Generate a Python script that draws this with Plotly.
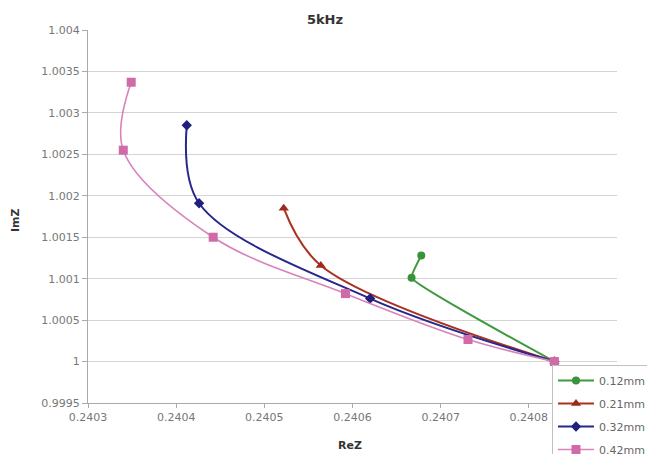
import plotly.graph_objects as go

# ---- data ----
series_names = ["0.12mm", "0.21mm", "0.32mm", "0.42mm"]

re_012 = [0.240678, 0.240667, 0.240829]
im_012 = [1.00128, 1.00101, 1.00000]

re_021 = [0.240522, 0.240564, 0.240829]
im_021 = [1.00185, 1.00116, 1.00000]

re_032 = [0.240412, 0.240426, 0.240620, 0.240829]
im_032 = [1.00285, 1.00191, 1.00076, 1.00000]

re_042 = [0.240349, 0.240340, 0.240442, 0.240592, 0.240731, 0.240829]
im_042 = [1.00337, 1.00255, 1.00150, 1.00082, 1.000266, 1.00000]

x_tickvals = [0.2403, 0.2404, 0.2405, 0.2406, 0.2407, 0.2408, 0.2409]
x_ticktext = ["0.2403", "0.2404", "0.2405", "0.2406", "0.2407", "0.2408", ""]
y_tickvals = [0.9995, 1.0, 1.0005, 1.001, 1.0015, 1.002, 1.0025, 1.003, 1.0035, 1.004]
y_ticktext = ["0.9995", "1", "1.0005", "1.001", "1.0015", "1.002", "1.0025", "1.003", "1.0035", "1.004"]

styles = [
    dict(color="#3f9a3f", mcolor="#3a923a", symbol="circle", msize=8, width=2, smooth=0.3),
    dict(color="#a8321f", mcolor="#9e2a1c", symbol="triangle-up", msize=9, width=2, smooth=1.0),
    dict(color="#27278c", mcolor="#1f1f7f", symbol="diamond", msize=8, width=2, smooth=1.0),
    dict(color="#d883ba", mcolor="#d06aa8", symbol="square", msize=9, width=1.6, smooth=1.0),
]
xs = [re_012, re_021, re_032, re_042]
ys = [im_012, im_021, im_032, im_042]

fig = go.Figure()
for i, (name, x, y, st) in enumerate(zip(series_names, xs, ys, styles)):
    fig.add_trace(go.Scatter(
        x=x, y=y, name=name, mode="lines+markers",
        line=dict(color=st["color"], width=st["width"], shape="spline", smoothing=st["smooth"]),
        marker=dict(symbol=st["symbol"], size=st["msize"], color=st["mcolor"]),
        legendgroup=f"g{i}",
    ))

FONT = "DejaVu Sans, Verdana, sans-serif"
axis_font = dict(family=FONT, size=11, color="#777777")

fig.update_layout(
    width=647, height=454,
    margin=dict(l=88, r=30, t=30, b=51, autoexpand=False),
    paper_bgcolor="white", plot_bgcolor="white",
    title=dict(text="<b>5kHz</b>", x=(325 / 647), xanchor="center", y=1 - 19 / 454, yanchor="middle",
               font=dict(family=FONT, size=13, color="#333333")),
    showlegend=True,
    legend=dict(x=(552 - 88) / 529, xanchor="left", y=(403 - 365) / 373, yanchor="top",
                bgcolor="white", bordercolor="#c0c0c0", borderwidth=1,
                font=dict(family=FONT, size=11, color="#666666"),
                traceorder="grouped", tracegroupgap=4, itemwidth=36),
    xaxis=dict(range=[0.2403, 0.2409], tickmode="array", tickvals=x_tickvals, ticktext=x_ticktext,
               showgrid=False, zeroline=False, showline=True, linecolor="#aaaaaa", linewidth=1,
               ticks="outside", ticklen=4, tickcolor="#aaaaaa", tickfont=axis_font),
    yaxis=dict(range=[0.9995, 1.004], tickmode="array", tickvals=y_tickvals, ticktext=y_ticktext,
               showgrid=True, gridcolor="#d4d4d4", gridwidth=1, zeroline=False,
               showline=True, linecolor="#aaaaaa", linewidth=1,
               ticks="outside", ticklen=5, tickcolor="#aaaaaa", tickfont=axis_font),
    annotations=[
        dict(text="<b>ImZ</b>", x=(15 - 88) / 529, xref="paper", y=(403 - 220) / 373, yref="paper",
             showarrow=False, textangle=-90,
             font=dict(family=FONT, size=11, color="#333333"),
             xanchor="center", yanchor="middle"),
        dict(text="<b>ReZ</b>", x=(350 - 88) / 529, xref="paper", y=(403 - 445) / 373, yref="paper",
             showarrow=False, font=dict(family=FONT, size=11, color="#333333"),
             xanchor="center", yanchor="middle"),
    ],
)

fig.write_html("out.html")
